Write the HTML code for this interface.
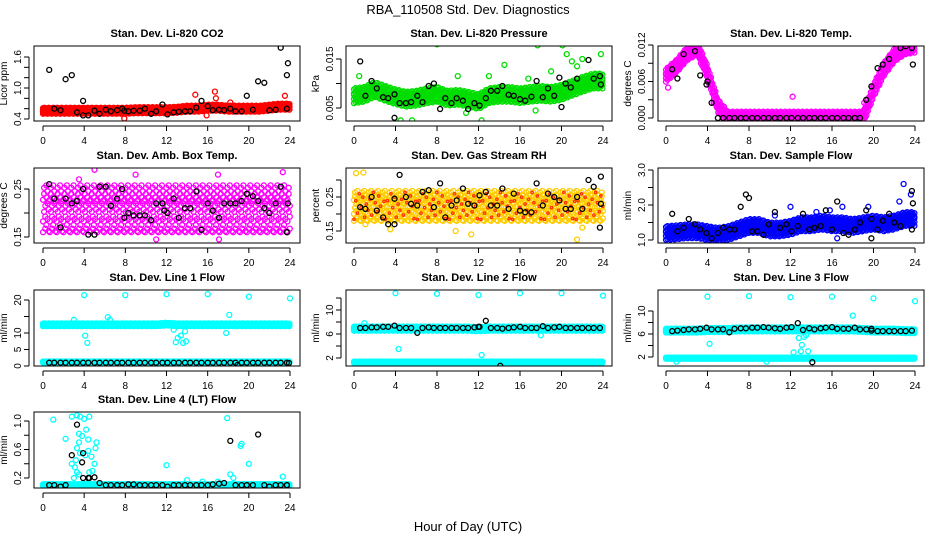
<!DOCTYPE html>
<html><head><meta charset="utf-8"><style>
html,body{margin:0;padding:0;background:#fff;}
svg{display:block;font-family:"Liberation Sans",Arial,sans-serif;}
</style></head><body>
<svg id="c" width="936" height="540" viewBox="0 0 936 540">
<text x="468" y="14" text-anchor="middle" font-size="13">RBA_110508  Std. Dev. Diagnostics</text>
<text x="468" y="531" text-anchor="middle" font-size="13">Hour of Day (UTC)</text>
</svg>
<script>
// shared sample hours for black (hourly-avg) points
const blackHours=[0.6,1.1,1.7,2.2,2.8,3.3,3.9,4.4,5.0,5.5,6.1,6.6,7.2,7.7,8.3,8.8,9.4,9.9,10.5,11.0,11.6,12.1,12.7,13.2,13.8,14.3,14.9,15.4,16.0,16.5,17.1,17.6,18.2,18.7,19.3,19.8,20.4,20.9,21.5,22.0,22.6,23.1,23.7];
const xTicks=[0,4,8,12,16,20,24];
// Panel 1 CO2
const co2Black=[1.35,0.6,0.57,1.17,1.25,0.53,0.75,0.47,0.56,0.5,0.58,0.55,0.57,0.6,0.55,0.56,0.56,0.6,0.5,0.55,0.68,0.49,0.53,0.54,0.55,0.55,0.62,0.75,0.65,0.57,0.58,0.57,0.6,0.55,0.55,0.85,0.58,1.13,1.1,0.57,0.58,1.78,1.25];
const co2BlackExtra=[[23.8,1.48],[23.7,0.6],[3.9,0.47],[7.9,0.56]];
const co2Center=[0.56,0.56,0.56,0.56,0.56,0.56,0.56,0.56,0.56,0.57,0.57,0.57,0.57,0.58,0.6,0.6,0.62,0.62,0.6,0.6,0.6,0.6,0.62,0.64,0.64];
const co2Spread=[0.05];
const co2Out=[[7.9,0.41],[16.7,0.93],[14.8,0.87],[23.5,0.85],[15.9,0.47],[16.8,0.8],[18.2,0.72]];
const co2Ticks=[0.4,0.6,0.8,1.0,1.2,1.4,1.6];const co2Labels=["0.4","","","1.0","","","1.6"];
// Panel 2 pressure
const prBlack=[0.0145,0.0075,0.0105,0.009,0.0072,0.007,0.0078,0.006,0.006,0.0062,0.0075,0.0062,0.0095,0.01,0.0048,0.007,0.006,0.007,0.0065,0.0048,0.006,0.0055,0.007,0.0085,0.0085,0.0095,0.0077,0.0075,0.0068,0.0065,0.0073,0.0105,0.0072,0.009,0.0075,0.0112,0.01,0.0092,0.011,0.0195,0.0148,0.011,0.0115];
const prBlackExtra=[[3.9,0.003],[20,0.0052],[23.8,0.0098]];
const prCenter=[0.0075,0.0078,0.0088,0.008,0.0073,0.0068,0.007,0.0075,0.0078,0.007,0.0072,0.0068,0.0063,0.0075,0.0078,0.0078,0.0075,0.0078,0.008,0.0078,0.0082,0.009,0.0098,0.0105,0.0105];
const prSpread=[0.0013];
const prOut=[[8,0.018],[10,0.0115],[14.5,0.0138],[17.7,0.0178],[18.9,0.0182],[20.1,0.0178],[22.8,0.0198],[23.9,0.0198],[4.5,0.0025],[5.6,0.0025],[12.3,0.0025],[20.5,0.016],[21,0.0145],[22,0.015],[23.8,0.016],[0.5,0.0115],[13,0.0115],[16.8,0.011],[19,0.0125],[21.5,0.0135],[10.8,0.004],[17.5,0.0045]];
const prTicks=[0.005,0.010,0.015];const prLabels=["0.005","","0.015"];
// Panel 3 temp
const tpBlack=[0.008,0.0065,0.0105,0.0125,0.011,0.007,0.0055,0.0025,0,0,0,0,0,0,0,0,0,0,0,0,0,0,0,0,0,0,0,0,0,0,0,0,0,0,0.003,0.0052,0.0082,0.0088,0.0097,0.0122,0.0115,0.0118,0.0115];
const tpBlackExtra=[[23.8,0.0088],[4,0.006]];
const tpCenter=[0.007,0.0085,0.0105,0.0115,0.0075,0.002,0,0,0,0,0,0,0,0,0,0,0,0,0,0,0.0045,0.008,0.0103,0.0115,0.0118];
const tpSpread=[0.0009];
const tpOut=[[0.2,0.005],[12.2,0.0035],[19.1,0.0025],[4.6,0.0025],[4.9,0.002]];
const tpTicks=[0,0.003,0.006,0.009,0.012];const tpLabels=["0.000","","0.006","","0.012"];
// Panel 4 amb box
const abBlack=[0.26,0.23,0.17,0.23,0.22,0.225,0.25,0.155,0.155,0.255,0.255,0.215,0.23,0.25,0.2,0.195,0.195,0.195,0.185,0.22,0.22,0.2,0.23,0.19,0.21,0.21,0.245,0.165,0.22,0.205,0.19,0.22,0.22,0.22,0.225,0.24,0.235,0.225,0.21,0.2,0.22,0.255,0.16];
const abBlackExtra=[[7.9,0.19],[11.8,0.205],[23.8,0.22]];
const abCenter=[0.21,0.21,0.21,0.21,0.21,0.21,0.21,0.21,0.21,0.21,0.21,0.21,0.21,0.21,0.21,0.21,0.21,0.21,0.21,0.21,0.21,0.21,0.21,0.21,0.21];
const abSpread=[0.05];
const abOut=[[5,0.29],[9,0.28],[17,0.28],[23.3,0.285],[11,0.145],[17.1,0.145],[3.5,0.27]];
const abTicks=[0.15,0.20,0.25];const abLabels=["0.15","","0.25"];
// Panel 5 RH
const rhBlack=[0.22,0.215,0.25,0.21,0.19,0.17,0.245,0.315,0.25,0.23,0.225,0.265,0.27,0.22,0.29,0.19,0.225,0.24,0.275,0.23,0.225,0.255,0.265,0.225,0.225,0.275,0.215,0.26,0.21,0.205,0.205,0.29,0.225,0.26,0.25,0.24,0.215,0.215,0.25,0.215,0.3,0.28,0.16];
const rhBlackExtra=[[23.8,0.31],[23.8,0.23],[3.9,0.17]];
const rhCenter=[0.225,0.225,0.225,0.225,0.225,0.225,0.225,0.225,0.225,0.225,0.225,0.225,0.225,0.225,0.225,0.225,0.225,0.225,0.225,0.225,0.225,0.225,0.225,0.225,0.225];
const rhSpread=[0.045];
const rhOut=[[0.2,0.32],[0.9,0.322],[1.1,0.17],[11.3,0.14],[21.5,0.125],[22,0.16],[3.5,0.155],[9.8,0.15]];
const rhTicks=[0.15,0.20,0.25,0.30];const rhLabels=["0.15","","0.25",""];
// Panel 6 sample flow
const sfBlack=[1.75,1.25,1.35,1.6,1.45,1.3,1.2,1.05,1.2,1.35,1.3,1.3,1.95,2.3,1.25,1.25,1.15,1.45,1.8,1.35,1.45,1.25,1.4,1.75,1.3,1.35,1.4,1.85,1.3,2.1,1.2,1.15,1.3,1.5,1.85,1.6,1.3,1.55,1.75,1.5,1.4,3.2,2.4];
const sfBlackExtra=[[23.8,2.05],[23.7,1.3],[8.0,2.2],[19.8,1.05]];
const sfCenter=[1.2,1.22,1.25,1.25,1.2,1.15,1.2,1.3,1.4,1.4,1.3,1.3,1.35,1.45,1.45,1.5,1.45,1.45,1.4,1.45,1.5,1.45,1.5,1.6,1.6];
const sfSpread=[0.17];
const sfOut=[[22.9,2.6],[23.6,2.3],[22.5,2.1],[19.5,1.95],[17,1.95],[10.5,1.7],[12,1.95],[16.5,1.05],[5.5,1.0],[14.5,1.8],[15.8,1.85]];
const sfTicks=[1.0,1.5,2.0,2.5,3.0];const sfLabels=["1.0","","2.0","","3.0"];
// Panel 7 line 1
const l1Black=[1,1,1,1,1,1,1,1,1,1,1,1,1,1,1,1,1,1,1,1,1,1,1,1,1,1,1,1,1,1,1,1,1,1,1,1,1,1,1,1,1,1,1];
const l1BlackExtra=[[23.9,0.9],[18.9,0.3]];
const l1Center=[12.5,12.5,12.5,12.5,12.5,12.5,12.5,12.5,12.5,12.5,12.5,12.5,12.7,12.5,12.5,12.5,12.5,12.5,12.5,12.5,12.5,12.5,12.5,12.5,12.5];
const l1Low=[1.2];
const l1Spread=[0.35];
const l1Out=[[4,21.5],[8,21.5],[12,21.8],[16,21.8],[20,21],[24,20.5],[3.0,14],[6.3,14.8],[6.5,14],[4.1,9.2],[4.3,7],[12.7,11],[12.9,7.2],[13.1,8.5],[13.4,9.2],[13.6,7],[13.9,7.5],[13.8,10.5],[17.8,10],[18.1,15.5]];
const l1Ticks=[0,5,10,15,20];const l1Labels=["0","5","10","","20"];
// Panel 8 line 2
const l2Black=[7,7,7.1,7.1,7.2,7.2,7.4,7,7,7,6.2,7,7.1,7,7,7,7,7,7,7,7.1,7.2,8.2,7,7,6.9,7,7.1,7.2,7,7,7,7.3,7,7.1,7.2,7,7,7,7,7,7,7];
const l2BlackExtra=[[14.1,0.7],[12,7.2]];
const l2Center=[6.9,6.9,6.9,6.9,6.9,6.9,6.9,6.9,6.9,6.9,6.9,6.9,6.8,6.9,6.9,6.9,6.9,6.9,6.9,6.9,6.9,6.9,6.9,6.9,6.9];
const l2Low=[1.3];
const l2Spread=[0.3];
const l2Out=[[4,12.8],[8,12.7],[12,12.5],[16,12.8],[20,12.8],[24,12.4],[4.3,3.5],[12.3,2.5],[18,5.8],[3,0.6],[22.5,0.6],[12.4,0.8],[1,7.8]];
const l2Ticks=[2,4,6,8,10,12];const l2Labels=["2","","6","","10",""];
// Panel 9 line 3
const l3Black=[6.5,6.6,6.7,6.8,6.8,6.9,7.1,6.8,6.8,6.8,6.3,6.9,7,7,7.1,7.1,7.2,7.1,7,6.9,7.1,7.2,7.9,6.7,7,6.8,7,7.1,7.2,6.9,6.9,6.9,7.1,6.8,6.8,6.6,6.5,6.5,6.5,6.5,6.5,6.5,6.6];
const l3BlackExtra=[[14.1,1.1],[19.8,6.9]];
const l3Center=[6.6,6.6,6.6,6.6,6.7,6.7,6.7,6.8,6.8,6.8,6.8,6.8,6.8,6.8,6.8,6.8,6.8,6.8,6.8,6.7,6.6,6.6,6.6,6.5,6.5];
const l3Low=[1.8];
const l3Spread=[0.3];
const l3Out=[[4,12.5],[8,12.6],[12,12.4],[16,12.5],[20,12.2],[24,11.7],[4.2,4.3],[18,9.2],[12.3,2.8],[13,3],[12.8,5.3],[13.3,5.5],[13.1,4.1],[13.7,3.0],[13.5,5.8],[9.7,1.2],[1,1.2]];
const l3Ticks=[2,4,6,8,10];const l3Labels=["2","","6","","10"];
// Panel 10 line 4
const l4Black=[0.1,0.1,0.08,0.1,0.52,0.95,0.55,0.2,0.21,0.13,0.1,0.1,0.1,0.1,0.11,0.11,0.1,0.1,0.1,0.1,0.1,0.08,0.1,0.1,0.1,0.1,0.1,0.1,0.1,0.11,0.12,0.13,0.72,0.1,0.1,0.1,0.1,0.81,0.1,0.08,0.1,0.1,0.1];
const l4BlackExtra=[[3.8,0.42],[3.9,0.2],[4.5,0.2],[19.8,0.1],[23.7,0.1]];
const l4Center=[0.1,0.1,0.1,0.1,0.1,0.1,0.1,0.1,0.1,0.1,0.1,0.1,0.1,0.1,0.1,0.1,0.1,0.1,0.1,0.1,0.1,0.1,0.1,0.1,0.1];
const l4Spread=[0.012];
const l4Out=[[1,1.02],[2.2,0.75],[2.8,1.06],[3.3,1.08],[3.6,1.06],[4,1.03],[4.5,1.06],[4.2,0.88],[3.5,0.82],[3.8,0.79],[4.4,0.74],[3.3,0.62],[3.5,0.7],[2.8,0.4],[3.1,0.35],[3.3,0.28],[3.5,0.25],[3.0,0.2],[4.1,0.52],[4.4,0.58],[4.7,0.5],[5.2,0.7],[5.1,0.62],[5.0,0.4],[4.8,0.3],[4.5,0.28],[4.2,0.12],[3.6,0.55],[3.2,0.45],[12,0.38],[17.9,1.04],[19.3,0.68],[19.2,0.65],[20,0.4],[18.2,0.25],[18.5,0.2],[23.3,0.22],[14,0.17],[15.5,0.15],[17,0.15]];
const l4Ticks=[0.2,0.4,0.6,0.8,1.0];const l4Labels=["0.2","","0.6","","1.0"];

const NS='http://www.w3.org/2000/svg';
const svg=document.getElementById('c');
const rows=[[46,121],[168,243],[290,366],[412,488]];
const cols=[[34,300,43,290],[346,612,354,603],[658,924,666,915]];
function el(tag,attrs,parent){const e=document.createElementNS(NS,tag);for(const k in attrs)e.setAttribute(k,attrs[k]);(parent||svg).appendChild(e);return e;}
function centerAt(arr,t){const i=Math.min(23,Math.floor(t));const f=t-i;return arr[i]*(1-f)+arr[i+1]*f;}

function panel(o){
  const [top,bot]=rows[o.r];const [bl,br,x0,x24]=cols[o.c];
  const g=el('g',{});
  
  
  const sx=h=>x0+(x24-x0)*h/24;
  const k=(o.p2-o.p1)/(o.v2-o.v1);
  const sy=v=>o.p1+(v-o.v1)*k;
  const clip='cl'+o.name;
  const cp=el('clipPath',{id:clip},g);el('rect',{x:bl,y:top,width:br-bl,height:bot-top},cp);
  const marks=el('g',{'clip-path':'url(#'+clip+')'},g);
  const dot=(h,v,col,nm)=>{const c=el('circle',{cx:sx(h).toFixed(1),cy:sy(v).toFixed(1),r:2.5,fill:'none',stroke:col,'stroke-width':1.3},marks);
    
    return c;};
  const offs=o.cloud?[-1,0.35,-0.55,0.85,-0.15,0.6,-0.85,0.1,-0.35,0.45,-0.7,0.95,0.2,-0.45,0.7,-0.05,-0.95,0.3]:[-1,-0.5,0,0.5,1];
  const step=o.cloud?0.11:0.14;
  let i=0;
  for(let t=0;t<=24.001;t+=step,i++){
    const cv=centerAt(o.center,t);
    const sp=o.spread[0];
    if(o.cloud){
      for(let j=0;j<3;j++){const f=offs[(i*3+j)%offs.length];dot(t,cv+f*sp,o.col,'series-point');}
    } else {
      for(let j=0;j<offs.length;j++){const f=offs[j]+((i+j)%3-1)*0.15;dot(t,cv+f*sp,o.col,'series-point');}
    }
    if(o.low) for(const f of [-0.5,0.5]) dot(t,o.low[0]+f*o.lowSpread,o.col,'series-point');
  }
  if(o.col2){i=0;for(let t=0;t<=24.001;t+=0.17,i++){const cv=centerAt(o.center,t);const c=dot(t,cv+offs[i%offs.length]*o.spread[0]*0.9,o.col2,'series-point-inner');c.setAttribute('r',1.2);}}
  for(const p of o.out) dot(p[0],p[1],o.col,'outlier-point');
  o.black.forEach((v,j)=>dot(blackHours[j],v,'#000','hourly-point'));
  for(const p of o.bx) dot(p[0],p[1],'#000','hourly-point');
  el('rect',{x:bl,y:top,width:br-bl,height:bot-top,fill:'none',stroke:'#000','stroke-width':1},g);
  const ax=el('g',{},g);
  
  
  el('line',{x1:sx(0),x2:sx(24),y1:bot+5,y2:bot+5,stroke:'#000'},ax);
  for(const t of xTicks){el('line',{x1:sx(t),x2:sx(t),y1:bot+5,y2:bot+10,stroke:'#000'},ax);
    const tx=el('text',{x:sx(t),y:bot+23,'text-anchor':'middle','font-size':10},ax);tx.textContent=t;}
  const ay=el('g',{},g);
  
  
  const ya=bl-5;
  el('line',{x1:ya,x2:ya,y1:sy(o.ticks[0]),y2:sy(o.ticks[o.ticks.length-1]),stroke:'#000'},ay);
  o.ticks.forEach((t,j)=>{el('line',{x1:ya-5,x2:ya,y1:sy(t),y2:sy(t),stroke:'#000'},ay);
    if(o.labels[j]){const y=sy(t);const tx=el('text',{x:ya-8,y:y,'text-anchor':'middle','font-size':10,transform:`rotate(-90 ${ya-8} ${y})`},ay);tx.textContent=o.labels[j];}});
  const ly=(top+bot)/2;const yl=el('text',{x:bl-27,y:ly,'text-anchor':'middle','font-size':10,transform:`rotate(-90 ${bl-27} ${ly})`},g);yl.textContent=o.ylab;
  
  
  const tt=el('text',{x:(bl+br)/2,y:top-9,'text-anchor':'middle','font-size':11,'font-weight':'bold'},g);tt.textContent=o.title;
  
  
}
panel({name:'co2',r:0,c:0,v1:0.4,p1:119,v2:1.6,p2:57,center:co2Center,spread:co2Spread,out:co2Out,black:co2Black,bx:co2BlackExtra,col:'#ff0000',ticks:co2Ticks,labels:co2Labels,ylab:'Licor ppm',title:'Stan. Dev. Li-820 CO2'});
panel({name:'pressure',r:0,c:1,v1:0.005,p1:108,v2:0.015,p2:59,center:prCenter,spread:prSpread,out:prOut,black:prBlack,bx:prBlackExtra,col:'#00dd00',ticks:prTicks,labels:prLabels,ylab:'kPa',title:'Stan. Dev. Li-820 Pressure'});
panel({name:'temp',r:0,c:2,v1:0,p1:118,v2:0.012,p2:45,center:tpCenter,spread:tpSpread,out:tpOut,black:tpBlack,bx:tpBlackExtra,col:'#ff00ff',ticks:tpTicks,labels:tpLabels,ylab:'degrees C',title:'Stan. Dev. Li-820 Temp.'});
panel({name:'ambbox',r:1,c:0,v1:0.15,p1:237,v2:0.25,p2:189,center:abCenter,spread:abSpread,out:abOut,black:abBlack,bx:abBlackExtra,col:'#ff00ff',cloud:true,ticks:abTicks,labels:abLabels,ylab:'degrees C',title:'Stan. Dev. Amb. Box Temp.'});
panel({name:'rh',r:1,c:1,v1:0.15,p1:231,v2:0.25,p2:197,center:rhCenter,spread:rhSpread,out:rhOut,black:rhBlack,bx:rhBlackExtra,col:'#ffcc00',col2:'#ff3300',cloud:true,ticks:rhTicks,labels:rhLabels,ylab:'percent',title:'Stan. Dev. Gas Stream RH'});
panel({name:'sampleflow',r:1,c:2,v1:1.0,p1:240,v2:3.0,p2:170,center:sfCenter,spread:sfSpread,out:sfOut,black:sfBlack,bx:sfBlackExtra,col:'#0000ff',ticks:sfTicks,labels:sfLabels,ylab:'ml/min',title:'Stan. Dev. Sample Flow'});
panel({name:'line1',r:2,c:0,v1:0,p1:366,v2:20,p2:300,center:l1Center,spread:l1Spread,low:l1Low,lowSpread:0.3,out:l1Out,black:l1Black,bx:l1BlackExtra,col:'#00ffff',ticks:l1Ticks,labels:l1Labels,ylab:'ml/min',title:'Stan. Dev. Line 1 Flow'});
panel({name:'line2',r:2,c:1,v1:2,p1:358,v2:10,p2:310,center:l2Center,spread:l2Spread,low:l2Low,lowSpread:0.2,out:l2Out,black:l2Black,bx:l2BlackExtra,col:'#00ffff',ticks:l2Ticks,labels:l2Labels,ylab:'ml/min',title:'Stan. Dev. Line 2 Flow'});
panel({name:'line3',r:2,c:2,v1:2,p1:357,v2:10,p2:311,center:l3Center,spread:l3Spread,low:l3Low,lowSpread:0.2,out:l3Out,black:l3Black,bx:l3BlackExtra,col:'#00ffff',ticks:l3Ticks,labels:l3Labels,ylab:'ml/min',title:'Stan. Dev. Line 3 Flow'});
panel({name:'line4',r:3,c:0,v1:0.2,p1:478,v2:1.0,p2:421,center:l4Center,spread:l4Spread,out:l4Out,black:l4Black,bx:l4BlackExtra,col:'#00ffff',ticks:l4Ticks,labels:l4Labels,ylab:'ml/min',title:'Stan. Dev. Line 4 (LT) Flow'});
</script>
</body></html>
